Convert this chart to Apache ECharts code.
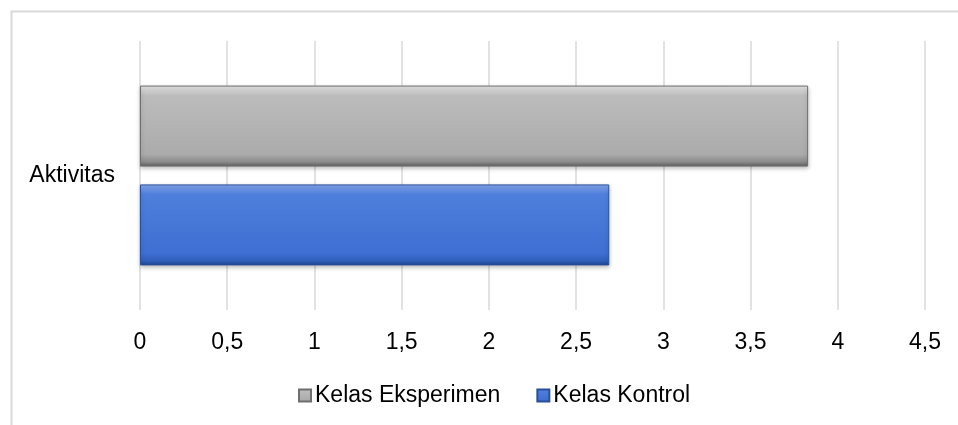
<!DOCTYPE html>
<html>
<head>
<meta charset="utf-8">
<script src="https://cdn.jsdelivr.net/npm/echarts@6/dist/echarts.min.js"></script>
<style>
    html, body { margin: 0; padding: 0; background: #fff; overflow: hidden; }
    #chart { width: 958px; height: 425px; }
</style>
</head>
<body>
<div id="chart"></div>
<script>
// data
var categories = ['Aktivitas'];
var seriesNames = ['Kelas Eksperimen', 'Kelas Kontrol'];
var eksperimen = [3.83];
var kontrol = [2.69];

// bevel-ish fill for each series
var grayFill = new echarts.graphic.LinearGradient(0, 0, 0, 1, [
    { offset: 0, color: '#e8e8e8' },
    { offset: 0.12, color: '#bcbcbc' },
    { offset: 0.85, color: '#ababab' },
    { offset: 0.94, color: '#8c8c8c' },
    { offset: 1, color: '#5e5e5e' }
]);
var blueFill = new echarts.graphic.LinearGradient(0, 0, 0, 1, [
    { offset: 0, color: '#86a8ee' },
    { offset: 0.12, color: '#4f7fdc' },
    { offset: 0.85, color: '#3e6fd2' },
    { offset: 0.94, color: '#3060bd' },
    { offset: 1, color: '#1f4590' }
]);

var myChart = echarts.init(document.getElementById('chart'));
var option = {
    backgroundColor: '#fff',
    animation: false,
    textStyle: { fontFamily: 'Liberation Sans, Arial, sans-serif' },
    graphic: [{
        type: 'rect',
        shape: { x: 11.5, y: 11.5, width: 1000, height: 1000 },
        style: { fill: 'none', stroke: '#d9d9d9', lineWidth: 2 },
        silent: true
    }],
    grid: { left: 140, right: 33, top: 41, bottom: 115 },
    legend: {
        top: 379,
        left: 293,
        icon: 'rect',
        itemWidth: 12,
        itemHeight: 12,
        itemGap: 36,
        textStyle: { fontSize: 23, color: '#000', padding: [0, 0, 0, -1] },
        data: seriesNames
    },
    xAxis: {
        type: 'value',
        min: 0,
        max: 4.5,
        interval: 0.5,
        axisLine: { show: false },
        axisTick: { show: false },
        axisLabel: {
            fontSize: 23,
            color: '#000',
            margin: 21,
            formatter: function(v) { return String(v).replace('.', ','); }
        },
        splitLine: { show: true, lineStyle: { color: '#d9d9d9', width: 1.5 } }
    },
    yAxis: {
        type: 'category',
        data: categories,
        axisLine: { show: false },
        axisTick: { show: false },
        axisLabel: { fontSize: 23, color: '#000', margin: 25 }
    },
    series: [{
        name: seriesNames[0],
        type: 'bar',
        data: eksperimen,
        barWidth: 81,
        barGap: '22%',
        itemStyle: {
            color: grayFill,
            borderColor: '#6e6e6e',
            borderWidth: 1,
            shadowColor: 'rgba(0,0,0,0.25)',
            shadowBlur: 4,
            shadowOffsetY: 2
        }
    }, {
        name: seriesNames[1],
        type: 'bar',
        data: kontrol,
        barWidth: 81,
        barGap: '22%',
        itemStyle: {
            color: blueFill,
            borderColor: '#2a4f9a',
            borderWidth: 1,
            shadowColor: 'rgba(0,0,0,0.25)',
            shadowBlur: 4,
            shadowOffsetY: 2
        }
    }]
};
myChart.setOption(option);
</script>
</body>
</html>
